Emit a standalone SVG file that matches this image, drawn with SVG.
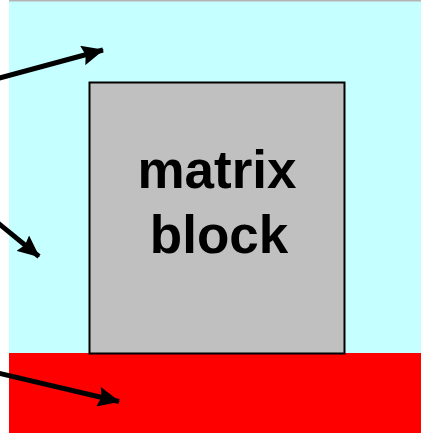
<svg xmlns="http://www.w3.org/2000/svg" width="421" height="433" viewBox="0 0 421 433">
<style>
.arrow{stroke:#000;stroke-width:5;fill:none}
.label{font-family:"Liberation Sans",Arial,sans-serif;font-weight:bold;font-size:53px;fill:#000;text-anchor:middle}
</style>
<defs>
<marker id="ah" markerUnits="userSpaceOnUse" markerWidth="22" markerHeight="20" viewBox="0 0 22 20" refX="21" refY="10" orient="auto">
<path d="M0,0 L22,10 L0,20 L3,10 Z" fill="#000"/>
</marker>
</defs>
<rect x="0" y="0" width="421" height="433" fill="#fff"/>
<g id="background">
<rect x="9" y="0" width="412" height="353" fill="#c6ffff"/>
<rect x="9" y="0" width="412" height="1.5" fill="#b4b4b4"/>
<rect x="9" y="353" width="412" height="80" fill="#ff0000"/>
</g>
<g id="matrix-block">
<rect x="89.5" y="82.5" width="255" height="271" fill="#c0c0c0" stroke="#000" stroke-width="2"/>
<text class="label" x="217" y="188">matrix</text>
<text class="label" x="219" y="253">block</text>
</g>
<g id="connectors">
<line class="arrow" x1="-2" y1="78.5" x2="103" y2="50" marker-end="url(#ah)"/>
<line class="arrow" x1="-2" y1="223" x2="39" y2="256.5" marker-end="url(#ah)"/>
<line class="arrow" x1="-2" y1="373" x2="119" y2="401.5" marker-end="url(#ah)"/>
</g>
</svg>
